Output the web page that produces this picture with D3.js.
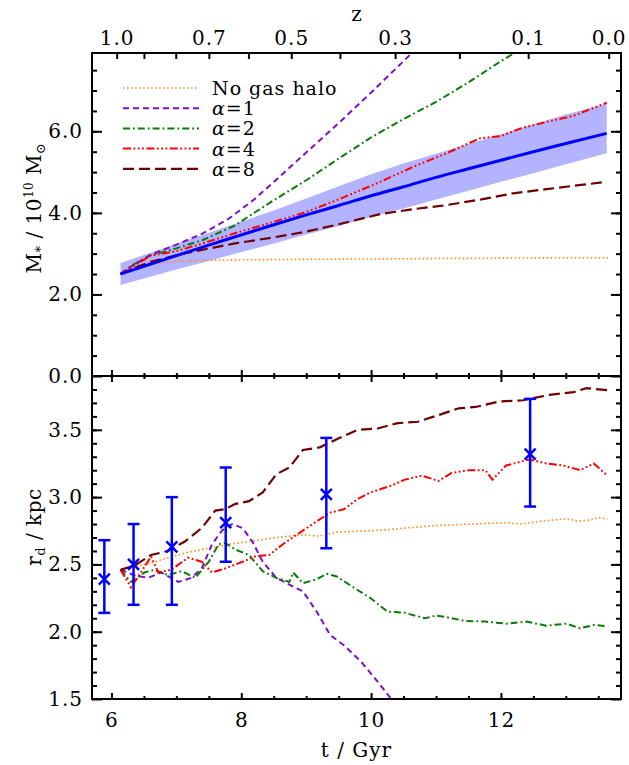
<!DOCTYPE html>
<html>
<head>
<meta charset="utf-8">
<script src="https://cdn.jsdelivr.net/npm/d3@7"></script>
<style>
  body { margin: 0; background: #fff; }
  svg text { font-family: "DejaVu Serif", "Liberation Serif", serif; fill: #000; }
</style>
</head>
<body>
<div id="main-div"></div>
<script>
// stellar mass and disc scale length vs cosmic time

// top panel: band (mean +/- scatter) and the model runs
let bandT = [6.14, 6.5, 7, 7.5, 8, 8.5, 9, 9.5, 10, 10.5, 11, 11.5, 12, 12.5, 13, 13.63]
let bandMid = [2.50, 2.69, 2.95, 3.21, 3.46, 3.71, 3.95, 4.18, 4.42, 4.64, 4.87, 5.08, 5.29, 5.50, 5.70, 5.95]
let bandUp = [2.77, 2.97, 3.24, 3.51, 3.78, 4.06, 4.35, 4.65, 4.95, 5.21, 5.45, 5.69, 5.93, 6.17, 6.41, 6.68]
let bandLo = [2.23, 2.39, 2.61, 2.82, 3.04, 3.25, 3.47, 3.68, 3.90, 4.11, 4.33, 4.54, 4.76, 4.97, 5.19, 5.46]

// [t, Mstar] pairs
let noHaloM = [[6.14, 2.50], [6.3, 2.62], [6.5, 2.72], [6.8, 2.78], [7.0, 2.81], [7.5, 2.84], [8, 2.85], [9, 2.86], [10, 2.87], [11, 2.88], [12, 2.89], [13, 2.90], [13.65, 2.90]]
let alpha1M = [[6.14, 2.50], [6.3, 2.68], [6.6, 2.97], [7.0, 3.22], [7.4, 3.49], [7.8, 3.85], [8.2, 4.33], [8.6, 4.90], [9.0, 5.48], [9.5, 6.20], [10.0, 6.95], [10.5, 7.72], [10.8, 8.2]]
let alpha2M = [[6.14, 2.50], [6.3, 2.70], [6.6, 2.96], [7.0, 3.13], [7.4, 3.33], [7.9, 3.69], [8.5, 4.31], [9.0, 4.80], [9.5, 5.33], [10.0, 5.85], [10.5, 6.30], [11.0, 6.72], [11.5, 7.20], [12.0, 7.72], [12.4, 8.1]]
let alpha4M = [[6.14, 2.50], [6.35, 2.70], [6.6, 2.95], [7.0, 3.06], [7.4, 3.25], [7.9, 3.50], [8.5, 3.78], [9.0, 4.02], [9.5, 4.33], [10.14, 4.76], [10.65, 5.13], [11.16, 5.46], [11.68, 5.83], [12.0, 5.88], [12.3, 6.07], [12.7, 6.23], [13.12, 6.38], [13.63, 6.70]]
let alpha8M = [[6.14, 2.50], [6.4, 2.68], [6.6, 2.80], [7.1, 3.00], [7.9, 3.25], [8.5, 3.40], [9.0, 3.54], [9.5, 3.72], [10.14, 3.97], [10.6, 4.08], [11.16, 4.19], [11.7, 4.33], [12.19, 4.48], [12.7, 4.58], [13.2, 4.68], [13.63, 4.76]]

// bottom panel: [t, r_d] pairs
let noHaloR = [[6.14, 2.46], [6.4, 2.49], [6.61, 2.51], [6.87, 2.55], [7.18, 2.59], [7.5, 2.62], [7.81, 2.65], [8.12, 2.67], [8.54, 2.70], [8.95, 2.72], [9.2, 2.71], [9.47, 2.74], [9.99, 2.75], [10.3, 2.76], [10.52, 2.77], [11.04, 2.79], [11.56, 2.80], [12.08, 2.81], [12.3, 2.80], [12.6, 2.82], [13.01, 2.84], [13.2, 2.82], [13.38, 2.83], [13.5, 2.85], [13.64, 2.835]]
let alpha1R = [[6.14, 2.46], [6.35, 2.42], [6.56, 2.40], [6.77, 2.44], [7.03, 2.37], [7.23, 2.40], [7.39, 2.47], [7.55, 2.65], [7.70, 2.75], [7.86, 2.80], [8.02, 2.77], [8.17, 2.67], [8.33, 2.52], [8.54, 2.40], [8.74, 2.35], [8.95, 2.30], [9.16, 2.15], [9.37, 1.975], [9.58, 1.90], [9.84, 1.78], [10.10, 1.63], [10.31, 1.50], [10.52, 1.49], [10.7, 1.40]]
let alpha2R = [[6.14, 2.46], [6.30, 2.37], [6.51, 2.44], [6.66, 2.46], [6.87, 2.42], [7.08, 2.45], [7.29, 2.40], [7.50, 2.52], [7.65, 2.65], [7.75, 2.66], [7.91, 2.61], [8.12, 2.57], [8.33, 2.45], [8.54, 2.40], [8.74, 2.37], [8.80, 2.44], [8.95, 2.36], [9.16, 2.39], [9.32, 2.43], [9.47, 2.41], [9.79, 2.31], [9.99, 2.25], [10.25, 2.15], [10.52, 2.14], [10.83, 2.10], [11.0, 2.12], [11.14, 2.11], [11.45, 2.08], [11.76, 2.075], [12.08, 2.06], [12.39, 2.075], [12.70, 2.045], [13.01, 2.06], [13.22, 2.025], [13.43, 2.05], [13.64, 2.04]]
let alpha4R = [[6.14, 2.46], [6.30, 2.33], [6.40, 2.40], [6.61, 2.56], [6.72, 2.44], [6.92, 2.46], [7.18, 2.55], [7.39, 2.52], [7.55, 2.44], [7.75, 2.47], [8.02, 2.52], [8.22, 2.56], [8.43, 2.57], [8.64, 2.65], [8.85, 2.72], [9.16, 2.82], [9.37, 2.885], [9.58, 2.91], [9.79, 2.985], [9.99, 3.035], [10.31, 3.085], [10.52, 3.13], [10.78, 3.16], [11.04, 3.12], [11.24, 3.18], [11.50, 3.20], [11.76, 3.20], [11.87, 3.13], [12.08, 3.235], [12.44, 3.28], [12.70, 3.25], [12.96, 3.235], [13.22, 3.20], [13.43, 3.25], [13.64, 3.16]]
let alpha8R = [[6.14, 2.46], [6.35, 2.49], [6.61, 2.57], [6.87, 2.60], [7.13, 2.67], [7.39, 2.77], [7.60, 2.90], [7.75, 2.91], [7.91, 2.95], [8.12, 2.97], [8.33, 3.035], [8.54, 3.17], [8.74, 3.22], [8.95, 3.35], [9.21, 3.37], [9.47, 3.43], [9.79, 3.50], [10.10, 3.51], [10.41, 3.55], [10.72, 3.56], [11.04, 3.61], [11.35, 3.66], [11.61, 3.67], [11.97, 3.71], [12.34, 3.72], [12.75, 3.76], [13.12, 3.78], [13.32, 3.81], [13.64, 3.795]]

// observed points with error bars
let obsT = [5.89, 6.34, 6.93, 7.76, 9.31, 12.45]
let obsR = [2.39, 2.50, 2.63, 2.81, 3.02, 3.32]
let obsLo = [2.14, 2.20, 2.20, 2.52, 2.62, 2.93]
let obsHi = [2.68, 2.80, 3.00, 3.22, 3.44, 3.73]

// redshift axis: z label and the time it sits at
let zVals = [1.0, 0.9, 0.8, 0.7, 0.6, 0.5, 0.4, 0.3, 0.2, 0.1, 0.0]
let zAtT = [6.08, 6.50, 6.99, 7.50, 8.11, 8.77, 9.52, 10.37, 11.36, 12.42, 13.66]
let zLabelled = [1.0, 0.7, 0.5, 0.3, 0.1, 0.0]

let legendNames = ["No gas halo", "1", "2", "4", "8"]

let width = 629
let height = 765
let xL = 92, xR = 621, yT = 53, yM = 376, yB = 699

let svg = d3.select("#main-div").append("svg")
    .attr("width", width)
    .attr("height", height)

let x = d3.scaleLinear().domain([5.7, 13.85]).range([xL, xR])
let yTop = d3.scaleLinear().domain([0, 7.92]).range([yM, yT])
let yBot = d3.scaleLinear().domain([1.5, 3.9]).range([yB, yM])

let defs = svg.append("defs")
defs.append("clipPath").attr("id", "clipTop").append("rect")
    .attr("x", xL).attr("y", yT).attr("width", xR - xL).attr("height", yM - yT)
defs.append("clipPath").attr("id", "clipBot").append("rect")
    .attr("x", xL).attr("y", yM).attr("width", xR - xL).attr("height", yB - yM)

let styles = {
  noHalo: {color: "#ff8c1a", dash: "1.6,2.4", w: 1.6},
  a1: {color: "#7d0fc8", dash: "6,4", w: 2},
  a2: {color: "#0a7a0a", dash: "7,3,1.8,3", w: 2},
  a4: {color: "#ff0000", dash: "8,2.5,1.8,2.5,1.8,2.5,1.8,2.5", w: 2},
  a8: {color: "#6e0000", dash: "11,5", w: 2.2}
}

// ---- top panel
let gTop = svg.append("g").attr("clip-path", "url(#clipTop)")

let band = bandT.map((t, i) => ({t: t, lo: bandLo[i], hi: bandUp[i], m: bandMid[i]}))

gTop.append("path")
    .datum(band)
    .attr("fill", "#b3b3ff")
    .attr("d", d3.area().x(d => x(d.t)).y0(d => yTop(d.lo)).y1(d => yTop(d.hi)))

let lineTop = d3.line().x(d => x(d[0])).y(d => yTop(d[1]))

let topSeries = [[noHaloM, styles.noHalo], [alpha8M, styles.a8], [alpha2M, styles.a2], [alpha1M, styles.a1], [alpha4M, styles.a4]]
topSeries.forEach(s => {
  gTop.append("path")
      .datum(s[0])
      .attr("fill", "none")
      .attr("stroke", s[1].color)
      .attr("stroke-width", s[1].w)
      .attr("stroke-dasharray", s[1].dash)
      .attr("d", lineTop)
})

gTop.append("path")
    .datum(band)
    .attr("fill", "none")
    .attr("stroke", "#0000ff")
    .attr("stroke-width", 3)
    .attr("d", d3.line().curve(d3.curveMonotoneX).x(d => x(d.t)).y(d => yTop(d.m)))

// legend
let legStyles = [styles.noHalo, styles.a1, styles.a2, styles.a4, styles.a8]
let leg = svg.append("g")
legStyles.forEach((s, i) => {
  let yy = 88 + i * 20.2
  leg.append("line")
      .attr("x1", 123).attr("x2", 199).attr("y1", yy).attr("y2", yy)
      .attr("stroke", s.color).attr("stroke-width", s.w).attr("stroke-dasharray", s.dash)
  let t = leg.append("text").attr("x", 212).attr("y", yy + 7).attr("font-size", 19)
      .attr("letter-spacing", 1)
  if (i == 0) {
    t.text(legendNames[i])
  } else {
    t.append("tspan").attr("font-style", "italic").text("α")
    t.append("tspan").text("=" + legendNames[i])
  }
})

// ---- bottom panel
let gBot = svg.append("g").attr("clip-path", "url(#clipBot)")
let lineBot = d3.line().x(d => x(d[0])).y(d => yBot(d[1]))

let botSeries = [[noHaloR, styles.noHalo], [alpha1R, styles.a1], [alpha2R, styles.a2], [alpha4R, styles.a4], [alpha8R, styles.a8]]
botSeries.forEach(s => {
  gBot.append("path")
      .datum(s[0])
      .attr("fill", "none")
      .attr("stroke", s[1].color)
      .attr("stroke-width", s[1].w)
      .attr("stroke-dasharray", s[1].dash)
      .attr("d", lineBot)
})

let obs = obsT.map((t, i) => ({t: t, r: obsR[i], lo: obsLo[i], hi: obsHi[i]}))
let eb = svg.append("g").attr("stroke", "#0000ff").attr("stroke-width", 2.5).attr("fill", "none")
eb.selectAll(".bar").data(obs).join("line").attr("class", "bar")
    .attr("x1", d => x(d.t)).attr("x2", d => x(d.t))
    .attr("y1", d => yBot(d.lo)).attr("y2", d => yBot(d.hi))
eb.selectAll(".capHi").data(obs).join("line").attr("class", "capHi")
    .attr("x1", d => x(d.t) - 6).attr("x2", d => x(d.t) + 6)
    .attr("y1", d => yBot(d.hi)).attr("y2", d => yBot(d.hi))
eb.selectAll(".capLo").data(obs).join("line").attr("class", "capLo")
    .attr("x1", d => x(d.t) - 6).attr("x2", d => x(d.t) + 6)
    .attr("y1", d => yBot(d.lo)).attr("y2", d => yBot(d.lo))
eb.selectAll(".cross").data(obs).join("path").attr("class", "cross")
    .attr("d", d => {
      let cx = x(d.t), cy = yBot(d.r), s = 5.5
      return `M${cx - s},${cy - s}L${cx + s},${cy + s}M${cx - s},${cy + s}L${cx + s},${cy - s}`
    })

// ---- axes
function styleAxis(g) {
  g.select(".domain").remove()
  g.selectAll(".tick line").attr("stroke", "#000").attr("stroke-width", 2)
  g.selectAll(".tick text").attr("font-size", 20).attr("fill", "#000")
      .attr("letter-spacing", 1)
      .attr("font-family", "DejaVu Serif, serif")
}

let minorT = d3.range(6, 13.6, 0.5)
let majorT = [6, 8, 10, 12]

// top panel y
svg.append("g").attr("transform", `translate(${xL},0)`)
    .call(d3.axisLeft(yTop).tickValues([0, 2, 4, 6]).tickSize(-10).tickPadding(9).tickFormat(d3.format(".1f")))
    .call(styleAxis)
svg.append("g").attr("transform", `translate(${xL},0)`)
    .call(d3.axisLeft(yTop).tickValues(d3.range(0.5, 7.9, 0.5)).tickSize(-5).tickFormat(""))
    .call(styleAxis)
svg.append("g").attr("transform", `translate(${xR},0)`)
    .call(d3.axisRight(yTop).tickValues([0, 2, 4, 6]).tickSize(-10).tickFormat(""))
    .call(styleAxis)
svg.append("g").attr("transform", `translate(${xR},0)`)
    .call(d3.axisRight(yTop).tickValues(d3.range(0.5, 7.9, 0.5)).tickSize(-5).tickFormat(""))
    .call(styleAxis)

// bottom panel y
let rMajor = [1.5, 2.0, 2.5, 3.0, 3.5]
let rMinor = d3.range(1.6, 3.85, 0.1)
svg.append("g").attr("transform", `translate(${xL},0)`)
    .call(d3.axisLeft(yBot).tickValues(rMajor).tickSize(-10).tickPadding(9).tickFormat(d3.format(".1f")))
    .call(styleAxis)
svg.append("g").attr("transform", `translate(${xL},0)`)
    .call(d3.axisLeft(yBot).tickValues(rMinor).tickSize(-5).tickFormat(""))
    .call(styleAxis)
svg.append("g").attr("transform", `translate(${xR},0)`)
    .call(d3.axisRight(yBot).tickValues(rMajor).tickSize(-10).tickFormat(""))
    .call(styleAxis)
svg.append("g").attr("transform", `translate(${xR},0)`)
    .call(d3.axisRight(yBot).tickValues(rMinor).tickSize(-5).tickFormat(""))
    .call(styleAxis)

// t axes: bottom of both panels, top of lower panel
;[yM, yB].forEach(yy => {
  svg.append("g").attr("transform", `translate(0,${yy})`)
      .call(d3.axisBottom(x).tickValues(majorT).tickSize(-6).tickPadding(14).tickFormat(yy == yB ? d3.format("d") : ""))
      .call(styleAxis)
  svg.append("g").attr("transform", `translate(0,${yy})`)
      .call(d3.axisBottom(x).tickValues(minorT.filter(t => majorT.indexOf(t) < 0)).tickSize(-3).tickFormat(""))
      .call(styleAxis)
})
svg.append("g").attr("transform", `translate(0,${yM})`)
    .call(d3.axisTop(x).tickValues(majorT).tickSize(-6).tickFormat(""))
    .call(styleAxis)
svg.append("g").attr("transform", `translate(0,${yM})`)
    .call(d3.axisTop(x).tickValues(minorT.filter(t => majorT.indexOf(t) < 0)).tickSize(-3).tickFormat(""))
    .call(styleAxis)

// z axis on top
svg.append("g").attr("transform", `translate(0,${yT})`)
    .call(d3.axisTop(x).tickValues(zAtT).tickSize(-6).tickPadding(8)
      .tickFormat((d, i) => zLabelled.indexOf(zVals[i]) >= 0 ? d3.format(".1f")(zVals[i]) : ""))
    .call(styleAxis)

// frames
;[[yT, yM], [yM, yB]].forEach(p => {
  svg.append("rect")
      .attr("x", xL).attr("y", p[0]).attr("width", xR - xL).attr("height", p[1] - p[0])
      .attr("fill", "none").attr("stroke", "#000").attr("stroke-width", 2)
})

// axis titles
svg.append("text").attr("x", (xL + xR) / 2).attr("y", 21)
    .attr("text-anchor", "middle").attr("font-size", 20).text("z")

svg.append("text").attr("x", (xL + xR) / 2).attr("y", 757)
    .attr("text-anchor", "middle").attr("font-size", 20).attr("letter-spacing", 1).text("t / Gyr")

let yl1 = svg.append("text").attr("transform", "translate(41,208) rotate(-90)")
    .attr("text-anchor", "middle").attr("font-size", 20).attr("letter-spacing", 0.5)
yl1.append("tspan").text("M")
yl1.append("tspan").attr("font-size", 13).attr("dy", 4).text("*")
yl1.append("tspan").attr("dy", -4).text(" / 10")
yl1.append("tspan").attr("font-size", 12).attr("dy", -8).text("10")
yl1.append("tspan").attr("dy", 8).text(" M")
yl1.append("tspan").attr("font-size", 13).attr("dy", 4).text("⊙")

let yl2 = svg.append("text").attr("transform", "translate(41,527) rotate(-90)")
    .attr("text-anchor", "middle").attr("font-size", 20).attr("letter-spacing", 0.5)
yl2.append("tspan").text("r")
yl2.append("tspan").attr("font-size", 13).attr("dy", 4).text("d")
yl2.append("tspan").attr("dy", -4).text(" / kpc")
</script>
</body>
</html>
